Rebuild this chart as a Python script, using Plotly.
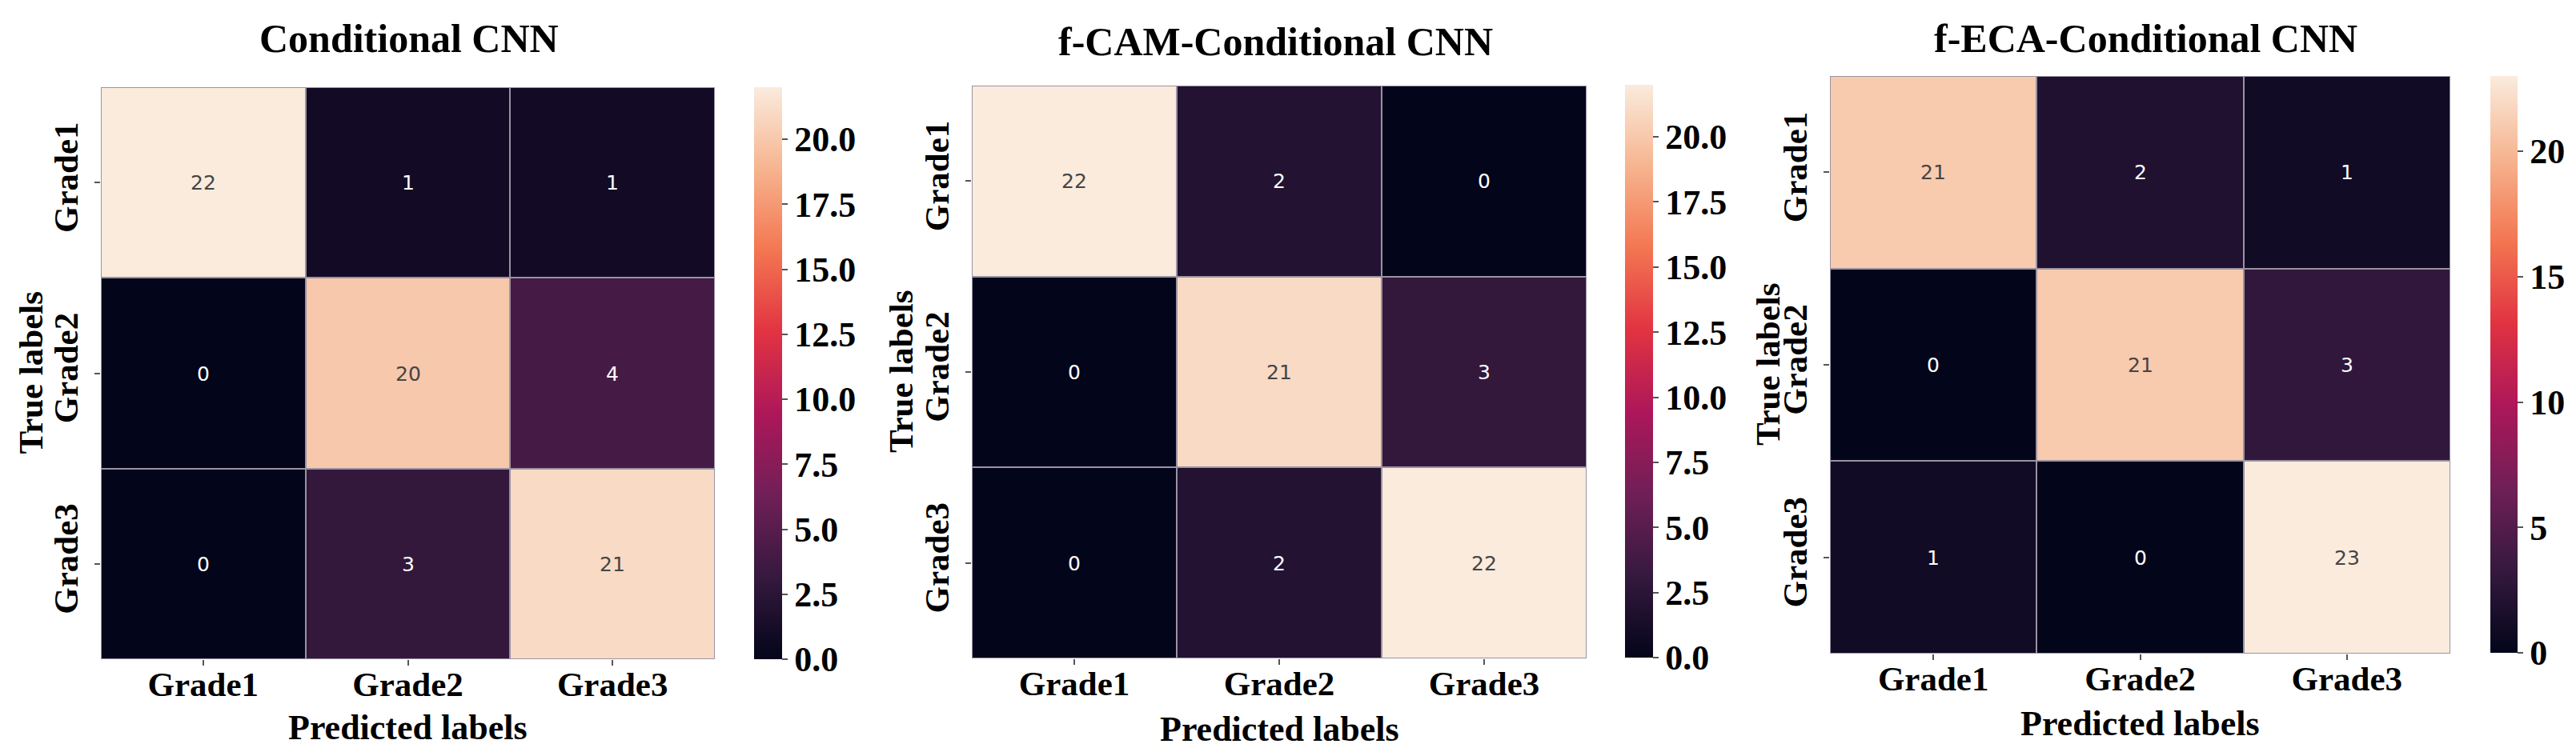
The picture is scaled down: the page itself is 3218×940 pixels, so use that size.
import plotly.graph_objects as go

# ---------------- data ----------------
labels = ["Grade1", "Grade2", "Grade3"]
titles = ["Conditional CNN", "f-CAM-Conditional CNN", "f-ECA-Conditional CNN"]

cm_conditional = [[22, 1, 1],
                  [0, 20, 4],
                  [0, 3, 21]]
cm_fcam = [[22, 2, 0],
           [0, 21, 3],
           [0, 2, 22]]
cm_feca = [[21, 2, 1],
           [0, 21, 3],
           [1, 0, 23]]
matrices = [cm_conditional, cm_fcam, cm_feca]

cbar_dtick = [2.5, 2.5, 5]
cbar_format = [".1f", ".1f", "d"]

# ---------------- layout (pixels) ----------------
W, H = 3218, 940
# heatmap boxes: (x0, x1, y0, y1) in px from top-left
boxes = [(118, 885, 101, 816), (1206, 1974, 99, 815), (2278, 3053, 87, 809)]
# colorbar boxes
cboxes = [(934, 969, 101, 816), (2022, 2057, 98, 814), (3103, 3137, 87, 808)]
title_xy = [(503, 40), (1585, 44), (2672, 40)]
xtitle_y = [901, 903, 896]
ytitle_x = [30, 1117, 2200]

rocket = [
    [0.0, "#03051a"],
    [1 / 7, "#35193e"],
    [2 / 7, "#701f57"],
    [3 / 7, "#ad1759"],
    [4 / 7, "#e13342"],
    [5 / 7, "#f37651"],
    [6 / 7, "#f6b48f"],
    [1.0, "#faebdd"],
]

SERIF = "Liberation Serif, Times New Roman, serif"

fig = go.Figure()
annotations = []

for i, (cm, box, cbox) in enumerate(zip(matrices, boxes, cboxes)):
    sfx = "" if i == 0 else str(i + 1)
    zmax = max(max(r) for r in cm)
    cx0, cx1, cy0, cy1 = cbox
    fig.add_trace(go.Heatmap(
        z=cm, x=labels, y=labels,
        colorscale=rocket, zmin=0, zmax=zmax,
        xgap=2, ygap=2,
        texttemplate="%{z}",
        textfont=dict(family="DejaVu Sans", size=25),
        xaxis="x" + sfx, yaxis="y" + sfx,
        colorbar=dict(
            x=cx0 / W, xanchor="left", xref="paper",
            y=1 - (cy0 + cy1) / 2 / H, yanchor="middle", yref="paper",
            len=(cy1 - cy0), lenmode="pixels",
            thickness=(cx1 - cx0), thicknessmode="pixels",
            outlinewidth=0,
            tick0=0, dtick=cbar_dtick[i], tickformat=cbar_format[i],
            ticks="outside", ticklen=7, tickwidth=2, tickcolor="#555",
            tickfont=dict(family=SERIF, size=44, weight="bold", color="black"),
            ypad=0, xpad=0,
        ),
    ))
    x0, x1, y0, y1 = box
    fig.update_layout(**{
        "xaxis" + sfx: dict(
            domain=[x0 / W, x1 / W], anchor="y" + sfx,
            ticks="outside", ticklen=7, tickwidth=2, tickcolor="#555",
            ticklabelstandoff=-14,
            tickfont=dict(family=SERIF, size=43, weight="bold", color="black"),
            showgrid=False, zeroline=False, showline=False,
        ),
        "yaxis" + sfx: dict(
            domain=[1 - y1 / H, 1 - y0 / H], anchor="x" + sfx,
            autorange="reversed", tickangle=-90,
            ticks="outside", ticklen=7, tickwidth=2, tickcolor="#555",
            ticklabelstandoff=4,
            tickfont=dict(family=SERIF, size=43, weight="bold", color="black"),
            showgrid=False, zeroline=False, showline=False,
        ),
    })
    tx, ty = title_xy[i]
    annotations.append(dict(
        text=titles[i], x=tx / W, y=1 - ty / H, xref="paper", yref="paper",
        xanchor="center", yanchor="middle", showarrow=False,
        font=dict(family=SERIF, size=50, weight="bold", color="black"),
    ))
    annotations.append(dict(
        text="Predicted labels", x=(x0 + x1) / 2 / W, y=1 - xtitle_y[i] / H,
        xref="paper", yref="paper", xanchor="center", yanchor="middle",
        showarrow=False,
        font=dict(family=SERIF, size=44, weight="bold", color="black"),
    ))
    annotations.append(dict(
        text="True labels", x=ytitle_x[i] / W, y=1 - (y0 + y1) / 2 / H,
        xref="paper", yref="paper", xanchor="center", yanchor="middle",
        showarrow=False, textangle=-90,
        font=dict(family=SERIF, size=43, weight="bold", color="black"),
    ))

fig.update_layout(
    width=W, height=H,
    margin=dict(l=0, r=0, t=0, b=0),
    paper_bgcolor="white",
    plot_bgcolor="#9a93a2",
    annotations=annotations,
    showlegend=False,
)

fig.write_html("out.html")
